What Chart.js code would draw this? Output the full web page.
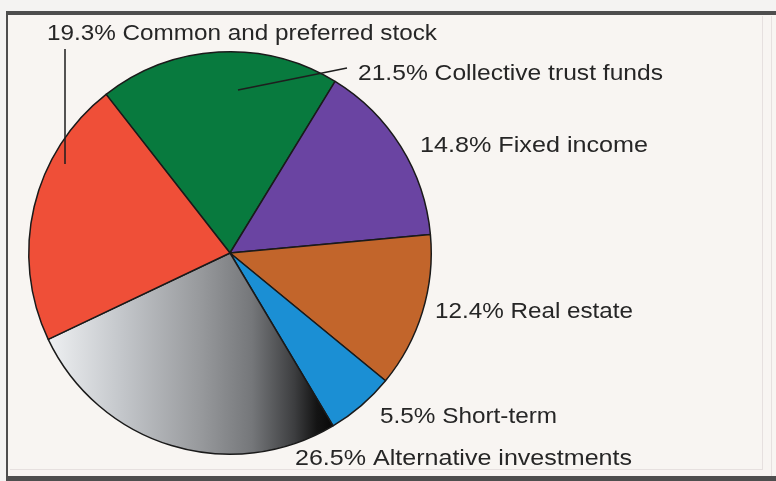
<!DOCTYPE html>
<html lang="en">
<head>
    <meta charset="UTF-8">
    <title>Asset allocation pie</title>
    <style>
        html, body { margin: 0; padding: 0; background: #f4f2f0; }
        #pie { display: block; }
    </style>
</head>
<body>
<canvas id="pie" width="776" height="481"></canvas>

<script src="https://cdn.jsdelivr.net/npm/chart.js@4.4.1/dist/chart.umd.min.js"></script>
<script>
    // slices, clockwise starting from the green one
    const categories = ['Collective trust funds', 'Fixed income', 'Real estate', 'Short-term', 'Alternative investments', 'Common and preferred stock'];
    // slice sizes as drawn in the picture (%)
    const shares = [19.3, 14.8, 12.4, 5.5, 26.5, 21.5];
    // percentages as printed next to each slice
    const printedPct = [21.5, 14.8, 12.4, 5.5, 26.5, 19.3];
    const sliceColors = ['#087a3e', '#6a44a2', '#c2652b', '#1b8fd4', null, '#ef4f38'];

    // where each printed label sits: [left x, baseline y, width]
    const labelBoxes = [
        [358, 80, 305],
        [420, 152, 228],
        [435, 318, 198],
        [380, 423, 177],
        [295, 465, 337],
        [47, 40, 390]
    ];

    const ctxPie = document.getElementById('pie').getContext('2d');

    function grayGradient(context) {
        const chart = context.chart;
        const area = chart.chartArea;
        if (!area) return '#888';
        const g = chart.ctx.createLinearGradient(area.left + area.width * 0.05, 0, area.left + area.width * 0.75, 0);
        g.addColorStop(0, '#eef0f2');
        g.addColorStop(0.25, '#c5c8cc');
        g.addColorStop(0.54, '#97999c');
        g.addColorStop(0.72, '#75777a');
        g.addColorStop(0.87, '#3d3e40');
        g.addColorStop(0.95, '#141414');
        g.addColorStop(1, '#0a0a0a');
        return g;
    }

    const framePlugin = {
        id: 'frame',
        beforeDraw(chart) {
            const c = chart.ctx;
            c.save();
            c.fillStyle = '#f4f3f2';
            c.fillRect(0, 0, chart.width, chart.height);
            c.fillStyle = '#f8f5f2';
            c.fillRect(7, 14, chart.width - 7, chart.height - 18);
            // faint inner lines
            c.strokeStyle = '#e6e0df';
            c.lineWidth = 1;
            c.beginPath();
            c.moveTo(762.5, 16); c.lineTo(762.5, 470);
            c.moveTo(771.5, 16); c.lineTo(771.5, 476);
            c.moveTo(10, 469.5); c.lineTo(762, 469.5);
            c.stroke();
            // dark frame
            c.fillStyle = '#4e4e4e';
            c.fillRect(6, 11, chart.width - 6, 4);
            c.fillRect(6, 11, 2, chart.height - 11);
            c.fillRect(6, 476, chart.width - 6, 5);
            c.restore();
        }
    };

    const labelPlugin = {
        id: 'sliceLabels',
        afterDraw(chart) {
            const c = chart.ctx;
            c.save();
            // leader lines
            c.strokeStyle = '#1e1e1e';
            c.lineWidth = 1.5;
            c.beginPath();
            c.moveTo(65, 49); c.lineTo(65, 164);
            c.moveTo(238, 90); c.lineTo(347, 68);
            c.stroke();

            c.fillStyle = '#262626';
            c.font = '22px "Liberation Sans", Arial, sans-serif';
            c.textBaseline = 'alphabetic';
            categories.forEach((name, i) => {
                const text = printedPct[i].toFixed(1) + '% ' + name;
                const [x, y, w] = labelBoxes[i];
                const natural = c.measureText(text).width;
                c.save();
                c.translate(x, y);
                c.scale(w / natural, 1);
                c.fillText(text, 0, 0);
                c.restore();
            });
            c.restore();
        }
    };

    new Chart(ctxPie, {
        type: 'pie',
        data: {
            labels: categories,
            datasets: [{
                data: shares,
                backgroundColor: (context) => {
                    const col = sliceColors[context.dataIndex];
                    return col ? col : grayGradient(context);
                },
                borderColor: '#1a1a1a',
                borderWidth: 1.5
            }]
        },
        options: {
            responsive: false,
            animation: false,
            rotation: -38,
            layout: { padding: { left: 28, top: 51, right: 344, bottom: 26 } },
            plugins: {
                legend: { display: false },
                tooltip: { enabled: false }
            }
        },
        plugins: [framePlugin, labelPlugin]
    });
</script>
</body>
</html>
